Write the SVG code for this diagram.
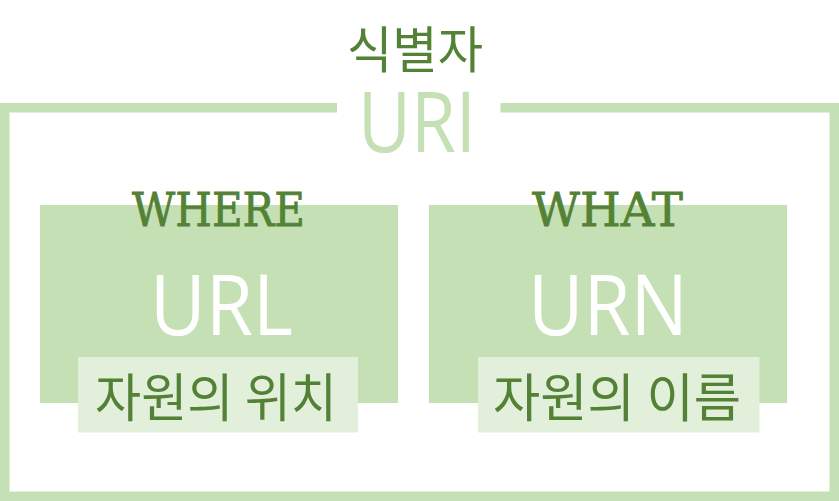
<svg xmlns="http://www.w3.org/2000/svg" width="839" height="501" viewBox="0 0 839 501">
<style>
.frame{fill:none;stroke:#c5e0b4;stroke-width:9.5}
.box{fill:#c5e0b4}
.lbox{fill:#e2efda}
.kr{font-family:"Noto Sans CJK KR","Noto Sans",sans-serif;fill:#538135}
.big{font-family:"Open Sans","Noto Sans",sans-serif;font-weight:400}
.slab{font-family:"DejaVu Serif","Liberation Serif",serif;fill:#538135;stroke:#538135;stroke-width:0.8}
</style>
<rect width="839" height="501" fill="#ffffff"/>
<g id="uri">
<path class="frame" d="M337,107.75 H4.75 V496.25 H834.25 V107.75 H500.5"/>
<text class="big" x="417" y="152" font-size="84" fill="#c5e0b4" text-anchor="middle" textLength="118" lengthAdjust="spacingAndGlyphs">URI</text>
<text class="kr" x="415" y="68" font-size="50" text-anchor="middle" textLength="136" lengthAdjust="spacingAndGlyphs">식별자</text>
</g>
<g id="url">
<rect class="box" x="40" y="205" width="358" height="198"/>
<text class="slab" x="218.5" y="226" font-size="46" text-anchor="middle" textLength="173" lengthAdjust="spacingAndGlyphs">WHERE</text>
<text class="big" x="221.5" y="335" font-size="85" fill="#ffffff" text-anchor="middle" textLength="143" lengthAdjust="spacingAndGlyphs">URL</text>
<rect class="lbox" x="78" y="357" width="280" height="75.5"/>
<text class="kr" x="216" y="417" font-size="52" text-anchor="middle" textLength="242" lengthAdjust="spacingAndGlyphs">자원의 위치</text>
</g>
<g id="urn">
<rect class="box" x="429" y="205" width="358" height="198"/>
<text class="slab" x="607.5" y="226" font-size="46" text-anchor="middle" textLength="151" lengthAdjust="spacingAndGlyphs">WHAT</text>
<text class="big" x="608" y="335" font-size="85" fill="#ffffff" text-anchor="middle" textLength="160" lengthAdjust="spacingAndGlyphs">URN</text>
<rect class="lbox" x="478" y="357" width="281.5" height="75.5"/>
<text class="kr" x="617" y="417" font-size="52" text-anchor="middle" textLength="248" lengthAdjust="spacingAndGlyphs">자원의 이름</text>
</g>
<g id="connectors"></g>
</svg>
